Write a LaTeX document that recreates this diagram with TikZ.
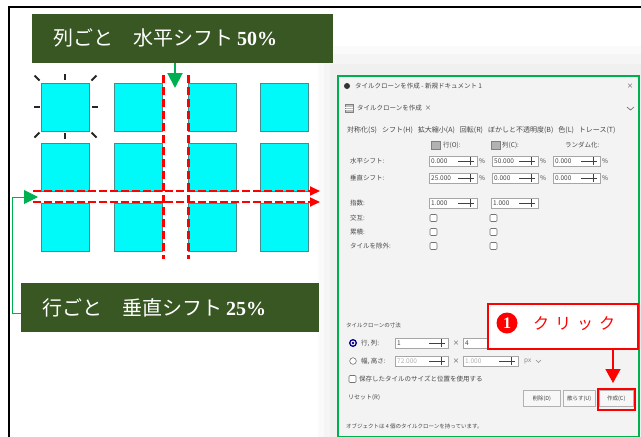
\documentclass[tikz,border=0pt]{standalone}
\usepackage{fontspec}
\setmainfont{Liberation Serif}
\newfontfamily\cjk{Noto Sans CJK JP}
\usetikzlibrary{arrows.meta}
\definecolor{dgreen}{RGB}{56,87,35}
\definecolor{ggreen}{RGB}{0,176,80}
\definecolor{sqfill}{RGB}{0,250,250}
\definecolor{sqedge}{RGB}{70,140,140}
\definecolor{dlgbg}{RGB}{243,243,243}
\definecolor{dlgtxt}{RGB}{70,70,70}
\tikzset{
  sq/.style={draw=sqedge, fill=sqfill, line width=1pt, minimum width=48pt, minimum height=48pt, anchor=north west, inner sep=0pt},
  lblbox/.style={fill=dgreen, anchor=north west, inner sep=0pt},
  lbltext/.style={text=white, anchor=west, inner sep=0pt, font=\cjk\fontsize{20}{22}\selectfont},
  rdash/.style={red, line width=3pt, dash pattern=on 8pt off 4pt},
  rarrow/.style={red, line width=2pt, dash pattern=on 8pt off 3pt, -{Triangle[length=10pt,width=9pt]}},
  garrow/.style={ggreen, line width=2pt, -{Triangle[length=15pt,width=15pt]}},
  gthin/.style={ggreen, line width=1pt, -{Triangle[length=14pt,width=14pt]}},
  handle/.style={black!85, line width=1.8pt},
  dtxt/.style={text=dlgtxt, anchor=west, inner sep=0pt, font=\cjk\fontsize{6.5}{7}\selectfont},
  sbox/.style={draw=black!35, fill=white, line width=0.5pt},
  cbox/.style={draw=black!55, fill=white, line width=0.6pt, rounded corners=1pt},
  btn/.style={draw=black!30, fill=black!3, line width=0.5pt, minimum height=16pt, inner sep=1pt, anchor=north west, text=dlgtxt, font=\cjk\fontsize{5.5}{6}\selectfont},
}
\newcommand\spinbox[5]{%
  \draw[sbox] (#2,#4-5) rectangle (#3,#4+5);
  \node[dtxt] (#1) at (#2+2,#4) {#5};
  \draw[black!75, line width=0.8pt] (#3-19,#4) -- (#3-3,#4);
  \draw[black!75, line width=0.8pt] (#3-7,#4-4) -- (#3-7,#4+4);
}
\newcommand\chkbox[2]{\draw[cbox] (#1-3.5,#2-3.5) rectangle (#1+3.5,#2+3.5);}
\begin{document}
\begin{tikzpicture}[x=1pt,y=-1pt]
\useasboundingbox (0,0) rectangle (641,437);
\fill[white] (0,0) rectangle (641,437);
% outer frame
\draw[line width=1.5pt] (9,437) -- (9,7) -- (641,7);
% shadow behind dialog
\fill[black!2] (318,46) rectangle (641,437);
\fill[black!4] (324,54) rectangle (641,437);
\fill[black!6] (330,64) rectangle (641,437);

% grid of squares
\foreach \c/\x in {1/41,2/114,3/188,4/260}{
  \foreach \r/\y in {1/83,2/143,3/203}{
    \node[sq] (s\r\c) at (\x,\y) {};
  }
}
% selection handles
\draw[handle] (34.5,75.5) -- (39.5,80.5);
\draw[handle] (91.5,80.5) -- (96.5,75.5);
\draw[handle] (34.5,137.5) -- (39.5,132.5);
\draw[handle] (91.5,132.5) -- (96.5,137.5);
\draw[handle] (65,74) -- (65,80);
\draw[handle] (65,133) -- (65,139);
\draw[handle] (34,107) -- (40,107);
\draw[handle] (92,107) -- (98,107);

% red dashed verticals
\coordinate (v1a) at (163,75); \coordinate (v1b) at (163,259);
\coordinate (v2a) at (188,75); \coordinate (v2b) at (188,259);
\draw[rdash] (v1a) -- (v1b);
\draw[rdash] (v2a) -- (v2b);
% red dashed horizontal arrows
\coordinate (h1a) at (33,191); \coordinate (h1b) at (320,191);
\coordinate (h2a) at (33,202); \coordinate (h2b) at (320,202);
\draw[rarrow] (h1a) -- (h1b);
\draw[rarrow] (h2a) -- (h2b);

% top label
\node[lblbox, minimum width=301pt, minimum height=49pt] (lbl1) at (32,14) {};
\node[lbltext] (lbl1t) at (53,38) {列ごと　水平シフト\hspace{4pt}{\rmfamily\bfseries 50\%}};
\coordinate (gt) at (175,88);
\draw[garrow] (lbl1.south -| gt) -- (gt);

% bottom label
\node[lblbox, minimum width=298pt, minimum height=49pt] (lbl2) at (21,283) {};
\node[lbltext] (lbl2t) at (42,307.5) {行ごと　垂直シフト\hspace{4pt}{\rmfamily\bfseries 25\%}};
\coordinate (gl) at (38,197);
\draw[gthin] ([yshift=-5.5pt]lbl2.west) -- ++(-9,0) |- (gl);

% dialog
\node[draw=ggreen, fill=dlgbg, line width=2pt, minimum width=301pt, minimum height=361pt, anchor=north west, inner sep=0pt] (dlg) at (337,75) {};
\fill[black!80] (347,86) circle (3);
\node[dtxt] (ttl) at (355,86) {タイルクローンを作成 - 新規ドキュメント 1};
\node[dtxt, anchor=center] (xbtn) at (630,86) {×};
\draw[black!50, fill=black!25] (345,104) rectangle (353,112);
\draw[white, line width=0.4pt] (345,106.7) -- (353,106.7) (345,109.4) -- (353,109.4);
\node[dtxt] (tab) at (357,108) {タイルクローンを作成\hspace{3pt}×};
\draw[black!60, line width=0.6pt] (627,107) -- (630.5,110) -- (634,107);
\node[dtxt, font=\cjk\fontsize{7}{8}\selectfont] (tabs) at (347,130) {対称化(S)\hspace{5pt}シフト(H)\hspace{5pt}拡大縮小(A)\hspace{5pt}回転(R)\hspace{5pt}ぼかしと不透明度(B)\hspace{5pt}色(L)\hspace{5pt}トレース(T)};
% headers
\draw[black!50, fill=black!30] (431,141) rectangle (440,149);
\node[dtxt] (hrow) at (443,145) {行(O):};
\draw[black!50, fill=black!30] (491,141) rectangle (500,149);
\node[dtxt] (hcol) at (502,145) {列(C):};
\node[dtxt] (hrnd) at (565,145) {ランダム化:};
% row labels
\node[dtxt] (lh) at (350,161) {水平シフト:};
\node[dtxt] (lv) at (350,178) {垂直シフト:};
\node[dtxt] (le) at (350,203) {指数:};
\node[dtxt] (la) at (350,218) {交互:};
\node[dtxt] (lc) at (350,232) {累積:};
\node[dtxt] (lx) at (350,246) {タイルを除外:};
% spinboxes
\spinbox{sp11}{429}{477}{161}{0.000}
\spinbox{sp12}{492}{538}{161}{50.000}
\spinbox{sp13}{553}{600}{161}{0.000}
\spinbox{sp21}{429}{477}{178}{25.000}
\spinbox{sp22}{492}{538}{178}{0.000}
\spinbox{sp23}{553}{600}{178}{0.000}
\spinbox{sp31}{429}{477}{203}{1.000}
\spinbox{sp32}{491}{538}{203}{1.000}
\foreach \yy/\nm in {161/a,178/b}{
  \node[dtxt] (pa\nm) at (479,\yy) {\%};
  \node[dtxt] (pb\nm) at (540,\yy) {\%};
  \node[dtxt] (pc\nm) at (602,\yy) {\%};
}
% checkboxes
\chkbox{433.5}{218}\chkbox{493.5}{218}
\chkbox{433.5}{232}\chkbox{493.5}{232}
\chkbox{433.5}{246}\chkbox{493.5}{246}
% dimensions
\node[dtxt, font=\cjk\fontsize{5.5}{6}\selectfont] (dim) at (346,325) {タイルクローンの寸法};
\draw[blue!55!black, fill=white, line width=1.3pt] (353,343) circle (3.3);
\fill[blue!55!black] (353,343) circle (1.4);
\node[dtxt] (rc) at (361,343) {行, 列:};
\spinbox{rc1}{395}{448}{343}{1}
\node[dtxt, anchor=center] (rcx) at (456,343) {×};
\spinbox{rc2}{463}{520}{343}{4}
\draw[black!55, fill=white, line width=0.6pt] (353,361) circle (3.3);
\node[dtxt] (wh) at (361,361) {幅, 高さ:};
\spinbox{wh1}{395}{448}{361}{\color{black!30}72.000}
\node[dtxt, anchor=center] (whx) at (456,361) {×};
\spinbox{wh2}{463}{518}{361}{\color{black!30}1.000}
\node[dtxt, text=black!45] (px) at (524,361) {px};
\draw[black!45, line width=0.5pt] (536,360) -- (538.5,362.5) -- (541,360);
\chkbox{352.5}{379}
\node[dtxt] (keep) at (359,379) {保存したタイルのサイズと位置を使用する};
\node[dtxt, font=\cjk\fontsize{6}{7}\selectfont] (reset) at (348,398) {リセット(R)};
\node[btn, minimum width=37pt] (bdel) at (523,390) {削除(D)};
\node[btn, minimum width=32pt] (bscat) at (563,390) {散らす(U)};
\node[btn, minimum width=34pt] (bmake) at (599,390) {作成(C)};
\node[dtxt, font=\cjk\fontsize{5.5}{6}\selectfont] (foot) at (346,426) {オブジェクトは 4 個のタイルクローンを持っています。};

% callout
\node[draw=red, fill=white, line width=2pt, minimum width=150pt, minimum height=45pt, anchor=north west, inner sep=0pt] (call) at (487,303) {};
\node[circle, fill=red, minimum size=21pt, inner sep=0pt, text=white, font=\rmfamily\bfseries\fontsize{16}{16}\selectfont] (num) at (507,323) {1};
\node[anchor=west, text=red, inner sep=0pt, font=\cjk\fontsize{16}{18}\selectfont] (click) at (533,324) {ク\hspace{6pt}リ\hspace{6pt}ッ\hspace{6pt}ク};
\coordinate (rtip) at (613,383);
\draw[red, line width=1.5pt, -{Triangle[length=14pt,width=15pt]}] (call.south -| rtip) -- (rtip);
\node[draw=red, line width=2pt, minimum width=37pt, minimum height=21pt, anchor=north west, inner sep=0pt] (rbox) at (597,388) {};
\end{tikzpicture}
\end{document}
